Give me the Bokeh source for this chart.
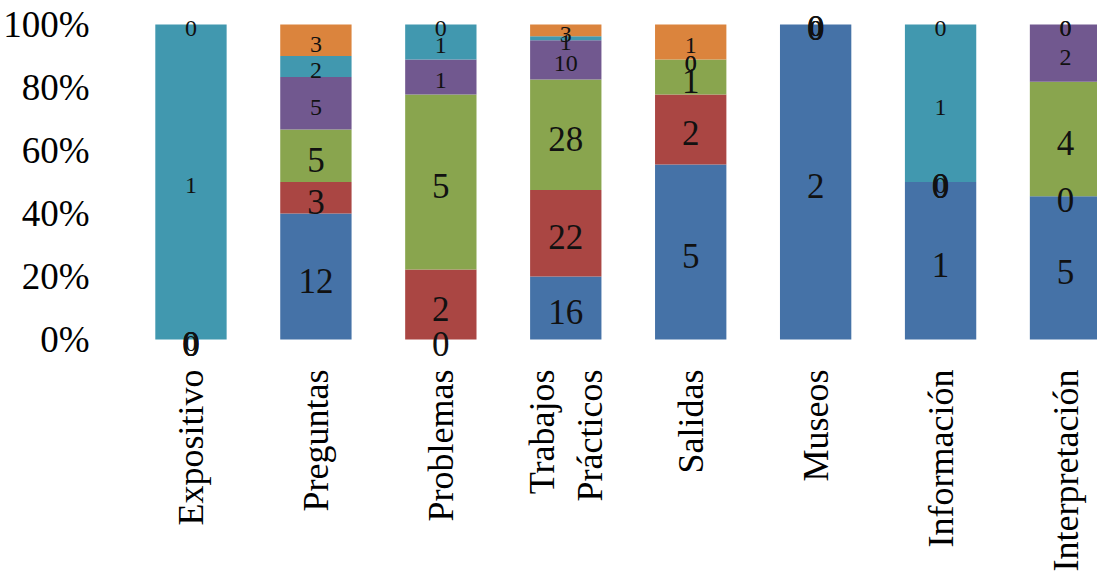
import math
from bokeh.plotting import figure
from bokeh.models import Range1d, NumeralTickFormatter, FixedTicker, ColumnDataSource, LabelSet
from bokeh.embed import file_html
from bokeh.resources import INLINE

# Categories (x axis) and the six stacked series (raw counts)
categories = ["Expositivo", "Preguntas", "Problemas", "Trabajos\nPrácticos",
              "Salidas", "Museos", "Información", "Interpretación"]
series_names = ["Serie 1", "Serie 2", "Serie 3", "Serie 4", "Serie 5", "Serie 6"]
serie_1 = [0, 12, 0, 16, 5, 2, 1, 5]
serie_2 = [0, 3, 2, 22, 2, 0, 0, 0]
serie_3 = [0, 5, 5, 28, 1, 0, 0, 4]
serie_4 = [0, 5, 1, 10, 0, 0, 0, 2]
serie_5 = [1, 2, 1, 1, 0, 0, 1, 0]
serie_6 = [0, 3, 0, 3, 1, 0, 0, 0]
y_ticks = [0, 0.2, 0.4, 0.6, 0.8, 1.0]

series = [serie_1, serie_2, serie_3, serie_4, serie_5, serie_6]
colors = ["#4572A7", "#AA4643", "#89A54E", "#71588F", "#4198AF", "#DB843D"]
label_sizes = ["35px", "35px", "35px", "24px", "24px", "24px"]

xs = list(range(len(categories)))
totals = [sum(s[i] for s in series) for i in xs]

# a little headroom below 0% and above 100% keeps the edge labels visible
p = figure(width=1097, height=574, output_backend="svg", toolbar_location=None,
           x_range=Range1d(-0.5, 7.256), y_range=Range1d(-0.0599, 1.0694),
           min_border_left=126, min_border_right=0, min_border_top=2,
           min_border_bottom=214)
p.outline_line_color = None
p.background_fill_color = "white"
p.border_fill_color = "white"
p.xgrid.visible = False
p.ygrid.visible = False

# 100% stacked bars with the raw count centred in each segment
bottom = [0.0] * len(xs)
for name, vals, color, size in zip(series_names, series, colors, label_sizes):
    frac = [v / t if t else 0 for v, t in zip(vals, totals)]
    top = [b + f for b, f in zip(bottom, frac)]
    src = ColumnDataSource(dict(x=xs, bottom=bottom, top=top,
                                mid=[(b + t) / 2 for b, t in zip(bottom, top)],
                                label=[str(v) for v in vals]))
    p.vbar(x="x", bottom="bottom", top="top", width=0.571, source=src,
           fill_color=color, line_color=None, name=name)
    p.add_layout(LabelSet(x="x", y="mid", text="label", source=src,
                          text_align="center", text_baseline="middle",
                          y_offset=-4, text_font="Liberation Serif",
                          text_font_size=size, text_color="#111111"))
    bottom = top

# Axes
p.yaxis.ticker = FixedTicker(ticks=y_ticks)
p.yaxis.formatter = NumeralTickFormatter(format="0%")
p.yaxis.axis_line_color = None
p.yaxis.major_tick_line_color = None
p.yaxis.minor_tick_line_color = None
p.yaxis.major_label_standoff = 33
p.yaxis.major_label_text_font = "Liberation Serif"
p.yaxis.major_label_text_font_size = "37px"
p.yaxis.major_label_text_color = "#000000"

p.xaxis.ticker = FixedTicker(ticks=xs)
p.xaxis.major_label_overrides = {i: c for i, c in enumerate(categories)}
p.xaxis.major_label_orientation = math.pi / 2
p.xaxis.axis_line_color = None
p.xaxis.major_tick_line_color = None
p.xaxis.minor_tick_line_color = None
p.xaxis.major_label_standoff = 5
p.xaxis.major_label_text_font = "Liberation Serif"
p.xaxis.major_label_text_font_size = "36px"
p.xaxis.major_label_text_color = "#000000"

open("out.html", "w").write(file_html(p, INLINE))
